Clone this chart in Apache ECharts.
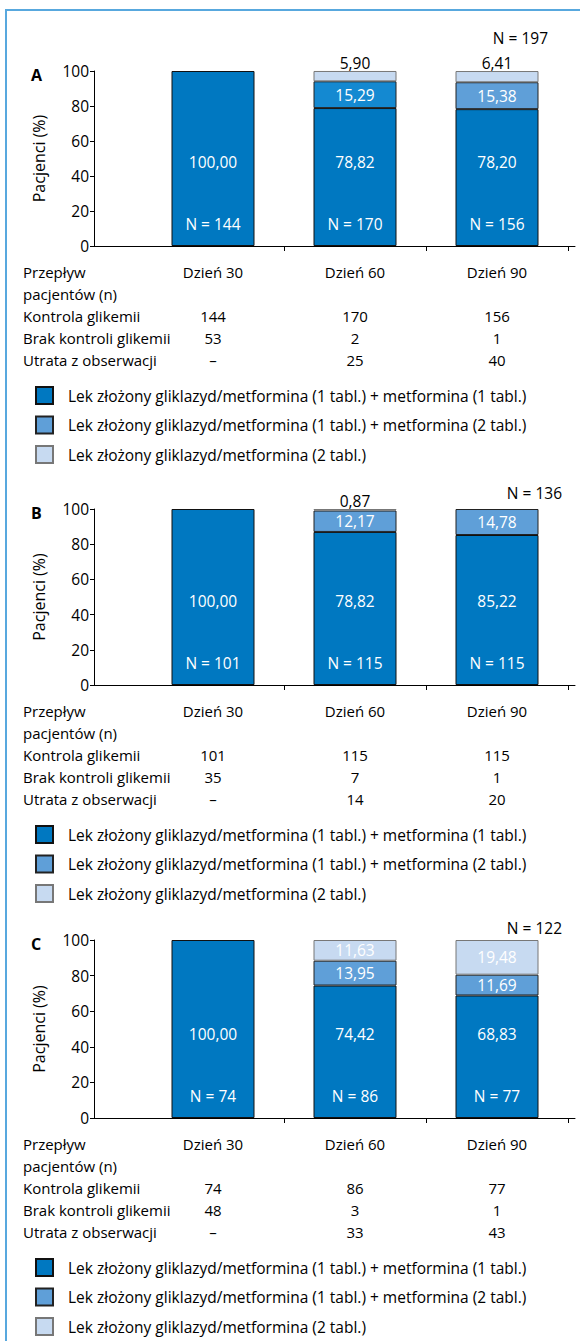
<!DOCTYPE html>
<html><head><meta charset="utf-8">
<script src="https://cdn.jsdelivr.net/npm/echarts@6/dist/echarts.min.js"></script>
<style>
html,body{margin:0;padding:0;background:#fff;overflow:hidden;}
#frame{position:absolute;left:5px;top:9px;width:620px;height:1400px;border-left:2px solid #58A8DE;border-top:2px solid #58A8DE;}
#chart{position:absolute;left:0;top:0;width:580px;height:1341px;}
</style></head><body>
<div id="frame"></div><div id="chart"></div>
<script>
// ---------- data ----------
const categories = ['Dzień 30', 'Dzień 60', 'Dzień 90'];
const seriesNames = [
  'Lek złożony gliklazyd/metformina (1 tabl.) + metformina (1 tabl.)',
  'Lek złożony gliklazyd/metformina (1 tabl.) + metformina (2 tabl.)',
  'Lek złożony gliklazyd/metformina (2 tabl.)'
];
const rowLabels = ['Przepływ', 'pacjentów (n)', 'Kontrola glikemii', 'Brak kontroli glikemii', 'Utrata z obserwacji'];
const yAxisName = 'Pacjenci (%)';

// Panel A
const darkA = [100.00, 78.82, 78.20];
const darkLabelsA = ['100,00', '78,82', '78,20'];
const midA = [null, 15.29, 15.38];
const lightA = [null, 5.90, 6.41];
const kontrolaA = [144, 170, 156];
const brakA = [53, 2, 1];
const utrataA = ['–', 25, 40];
const totalA = 197;

// Panel B (dark bar of day 60 is ~86.96 high, printed label reads 78,82)
const darkB = [100.00, 86.96, 85.22];
const darkLabelsB = ['100,00', '78,82', '85,22'];
const midB = [null, 12.17, 14.78];
const lightB = [null, 0.87, null];
const kontrolaB = [101, 115, 115];
const brakB = [35, 7, 1];
const utrataB = ['–', 14, 20];
const totalB = 136;

// Panel C
const darkC = [100.00, 74.42, 68.83];
const darkLabelsC = ['100,00', '74,42', '68,83'];
const midC = [null, 13.95, 11.69];
const lightC = [null, 11.63, 19.48];
const kontrolaC = [74, 86, 77];
const brakC = [48, 3, 1];
const utrataC = ['–', 33, 43];
const totalC = 122;

// ---------- layout / style ----------
const FONT = 'Open Sans';
const COL_DARK = '#0078C1', COL_MID = '#5F9FD8', COL_MID_BRIGHT = '#1489D1', COL_LIGHT = '#C7DAF1';
const panels = [
  {letter: 'A', dark: darkA, darkLabels: darkLabelsA, mid: midA, light: lightA, kontrola: kontrolaA, brak: brakA, utrata: utrataA, total: totalA,
   top: 71, height: 175, totalTop: 23, totalRight: 27, lightInside: false, midBright: [1]},
  {letter: 'B', dark: darkB, darkLabels: darkLabelsB, mid: midB, light: lightB, kontrola: kontrolaB, brak: brakB, utrata: utrataB, total: totalB,
   top: 509, height: 176, totalTop: 478, totalRight: 13, lightInside: false, midBright: []},
  {letter: 'C', dark: darkC, darkLabels: darkLabelsC, mid: midC, light: lightC, kontrola: kontrolaC, brak: brakC, utrata: utrataC, total: totalC,
   top: 940, height: 178, totalTop: 913, totalRight: 13, lightInside: true, midBright: []}
];
const fmt = v => v.toFixed(2).replace('.', ',');

const option = {
  animation: false,
  textStyle: {fontFamily: FONT, color: '#000'},
  grid: [], xAxis: [], yAxis: [], series: [], title: [], legend: []
};

panels.forEach((p, i) => {
  const axisY = p.top + p.height;
  option.grid.push({left: 142, right: 12, top: p.top, height: p.height});   // bars
  option.grid.push({left: 94, right: 5, top: p.top, height: p.height});     // visible frame axes
  const gMain = i * 2, gFrame = i * 2 + 1;

  option.xAxis.push({
    type: 'category', gridIndex: gMain, data: categories,
    axisLine: {show: false},
    axisTick: {show: true, length: 5, lineStyle: {color: '#000', width: 1}, interval: (idx) => idx !== 0},
    axisLabel: {
      interval: 0, margin: 14.5, fontSize: 15, color: '#000', fontFamily: FONT, lineHeight: 22,
      formatter: (val, idx) => [val, '', p.kontrola[idx], p.brak[idx], p.utrata[idx]].join('\n')
    }
  });
  option.xAxis.push({
    type: 'value', gridIndex: gFrame, min: 0, max: 1,
    axisLine: {show: true, lineStyle: {color: '#000', width: 1}},
    axisTick: {show: false}, axisLabel: {show: false}, splitLine: {show: false}
  });
  option.yAxis.push({type: 'value', gridIndex: gMain, min: 0, max: 100, interval: 20, show: false});
  option.yAxis.push({
    type: 'value', gridIndex: gFrame, min: 0, max: 100, interval: 20,
    name: yAxisName, nameLocation: 'middle', nameGap: 47,
    nameTextStyle: {fontSize: 16, color: '#000', fontFamily: FONT},
    axisLine: {show: true, lineStyle: {color: '#000', width: 1}},
    axisTick: {show: true, length: 4, lineStyle: {color: '#000'}},
    axisLabel: {fontSize: 15.5, color: '#000', margin: 5, fontFamily: FONT},
    splitLine: {show: false}
  });
  const xMain = i * 2, yMain = i * 2;

  option.series.push({
    type: 'bar', name: seriesNames[0], stack: 's' + i, xAxisIndex: xMain, yAxisIndex: yMain,
    barWidth: 83, data: p.dark,
    itemStyle: {color: COL_DARK, borderColor: '#111', borderWidth: 1},
    label: {
      show: true, position: 'insideBottom', distance: 12,
      formatter: prm => `{a|${p.darkLabels[prm.dataIndex]}}\n{s| }\n{a|N = ${p.kontrola[prm.dataIndex]}}`,
      rich: {a: {fontSize: 15.5, color: '#fff', lineHeight: 20, fontFamily: FONT}, s: {fontSize: 10, lineHeight: 42}}
    }
  });
  option.series.push({
    type: 'bar', name: seriesNames[1], stack: 's' + i, xAxisIndex: xMain, yAxisIndex: yMain,
    barWidth: 83,
    data: p.mid.map((v, k) => v == null ? '-' : (p.midBright.includes(k) ? {value: v, itemStyle: {color: COL_MID_BRIGHT}} : v)),
    itemStyle: {color: COL_MID, borderColor: '#222', borderWidth: 1},
    label: {show: true, position: 'inside', color: '#fff', fontSize: 15.5, fontFamily: FONT,
            formatter: prm => fmt(prm.value)}
  });
  option.series.push({
    type: 'bar', name: seriesNames[2], stack: 's' + i, xAxisIndex: xMain, yAxisIndex: yMain,
    barWidth: 83, data: p.light.map(v => v == null ? '-' : v),
    itemStyle: {color: COL_LIGHT, borderColor: '#777', borderWidth: 1},
    label: p.lightInside
      ? {show: true, position: 'inside', color: '#fff', fontSize: 15.5, fontFamily: FONT, formatter: prm => fmt(prm.value)}
      : {show: true, position: 'top', distance: 0, color: '#000', fontSize: 15.5, fontFamily: FONT, formatter: prm => fmt(prm.value)}
  });

  option.title.push({text: p.letter, left: 26, top: p.top - 11,
    textStyle: {fontSize: 16, fontWeight: 'bold', color: '#000', fontFamily: FONT, lineHeight: 20}});
  option.title.push({text: 'N = ' + p.total, right: p.totalRight, top: p.totalTop,
    textStyle: {fontSize: 15.5, fontWeight: 'normal', color: '#000', fontFamily: FONT, lineHeight: 20}});
  option.title.push({text: rowLabels.map(r => `{r|${r}}`).join('\n'), left: 23, top: axisY + 14.5, padding: 0,
    textStyle: {fontWeight: 'normal',
      rich: {r: {fontSize: 15, fontWeight: 'normal', color: '#000', fontFamily: FONT, lineHeight: 22}}}});

  option.legend.push({
    orient: 'vertical', left: 35, top: axisY + 140, padding: 0,
    itemWidth: 17, itemHeight: 17, itemGap: 10.5,
    icon: 'rect', data: seriesNames, selectedMode: false,
    textStyle: {fontSize: 15.5, color: '#000', fontFamily: FONT, lineHeight: 18, padding: [0, 0, 0, 10]}
  });
});

const chart = echarts.init(document.getElementById('chart'), null, {renderer: 'svg'});
chart.setOption(option);
</script>
</body></html>
